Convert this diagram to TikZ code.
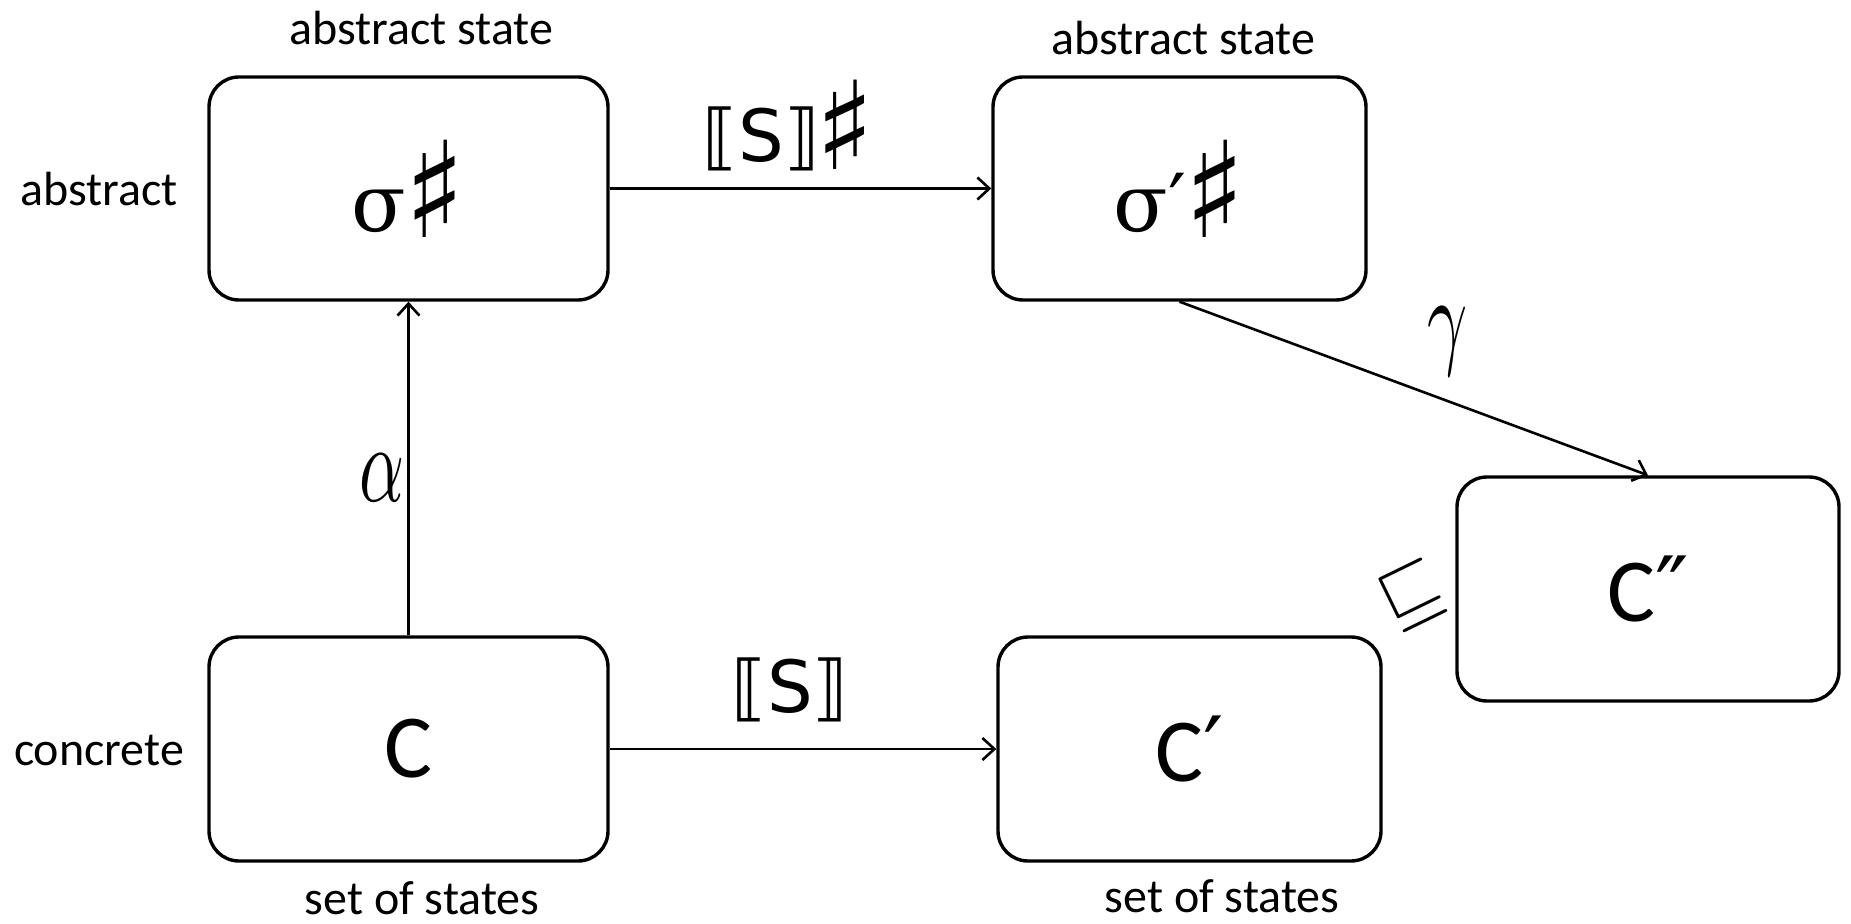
\documentclass[tikz,border=0pt]{standalone}
\usepackage{fontspec}
\setmainfont{Carlito}
\newfontfamily\djv{DejaVu Sans}
\newfontfamily\dserif{DejaVu Serif}
\usetikzlibrary{arrows.meta}
\newcommand{\bigsharp}{\kern-1pt\raisebox{-3pt}{\scalebox{1.75}[1.85]{\djv\fontsize{36}{40}\selectfont ♯}}}
\newcommand{\labsharp}{\kern-2pt\raisebox{-4pt}{\scalebox{1.7}[1.7]{\djv\fontsize{36}{40}\selectfont ♯}}}
\begin{document}
\begin{tikzpicture}[x=0.5pt,y=-0.5pt,
  box/.style={draw,line width=1.7pt,rounded corners=15pt,inner sep=0pt,
    font=\fontsize{45}{50}\selectfont},
  lab/.style={font=\fontsize{24}{28}\selectfont,inner sep=0pt},
  elab/.style={font=\fontsize{36}{40}\selectfont\djv,inner sep=0pt},
  mlab/.style={xscale=3.5,yscale=5.5,inner sep=0pt},
  arr/.style={line width=1.3pt,-{Straight Barb[length=6pt,width=11pt,line width=1.3pt]}}]
\useasboundingbox (0,0) rectangle (1851,924);
\node[box,minimum width=199.5pt,minimum height=111.5pt] (s1) at (408.5,188.5)
  {{\dserif\fontsize{40}{44}\selectfont σ}\bigsharp};
\node[box,minimum width=186.5pt,minimum height=111.5pt] (s2) at (1179.5,188.5)
  {{\dserif\fontsize{40}{44}\selectfont σ′}\bigsharp};
\node[box,minimum width=191pt,minimum height=112pt] (c2) at (1648,589) {C{\djv ″}};
\node[box,minimum width=199.5pt,minimum height=112pt] (c) at (408.5,749) {C};
\node[box,minimum width=191.5pt,minimum height=112pt] (c1) at (1189.5,749) {C{\djv ′}};
\node[lab] (l1) at (421,28) {abstract state};
\node[lab] (l2) at (1183,38) {abstract state};
\node[lab] (l3) at (99,189) {abstract};
\node[lab] (l4) at (99,750) {concrete};
\node[lab] (l5) at (422,898) {set of states};
\node[lab] (l6) at (1222,896) {set of states};
\draw[arr] (s1.east) -- (s2.west);
\draw[arr] (c.east) -- (c1.west);
\draw[arr] (c.north) -- (s1.south);
\draw[arr] (s2.south) -- (c2.north);
\node[elab,anchor=base] (t1) at (789,162) {⟦S⟧\labsharp};
\node[elab] (t2) at (790,690) {⟦S⟧};
\node[mlab] (al) at (382,478) {$\alpha$};
\node[mlab] (ga) at (1448,342) {$\gamma$};
\node[rotate=26,scale=3.9,inner sep=0pt] (sq) at (1412,596) {$\sqsubseteq$};
\end{tikzpicture}
\end{document}
